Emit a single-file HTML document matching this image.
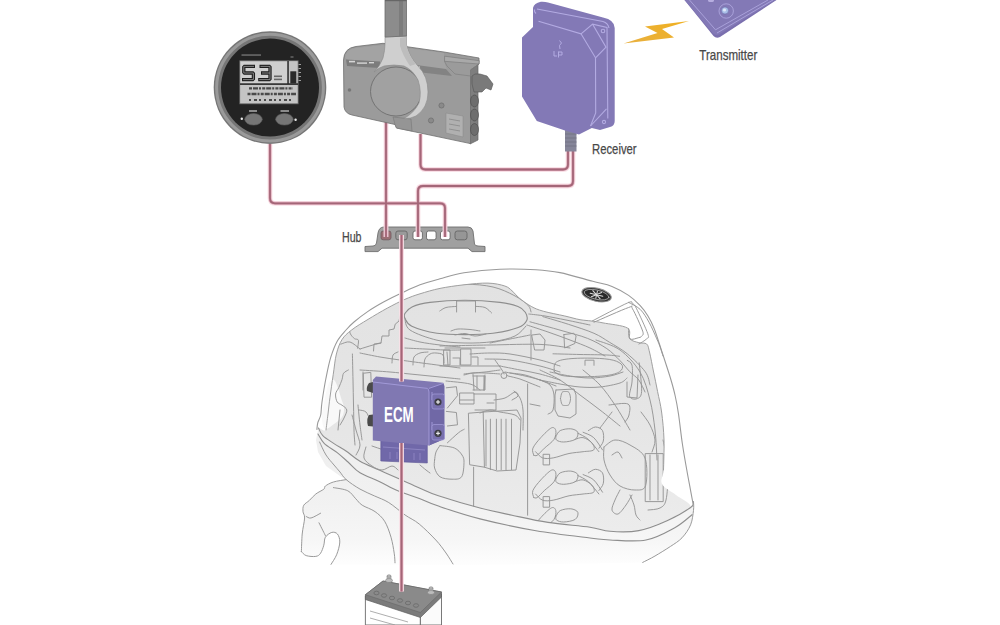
<!DOCTYPE html>
<html><head><meta charset="utf-8">
<style>
html,body{margin:0;padding:0;background:#fff;width:1000px;height:625px;overflow:hidden}
svg{display:block}
text{font-family:"Liberation Sans",sans-serif}
</style></head>
<body>
<svg width="1000" height="625" viewBox="0 0 1000 625">
<defs>
<linearGradient id="ring" x1="0" y1="0" x2="1" y2="1">
<stop offset="0" stop-color="#9a9a9a"/><stop offset="1" stop-color="#7a7a7a"/>
</linearGradient>
<linearGradient id="bolt" x1="0" y1="1" x2="1" y2="0">
<stop offset="0" stop-color="#e8b040"/><stop offset="1" stop-color="#f0b020"/>
</linearGradient>
<linearGradient id="intg" x1="0" y1="0" x2="0" y2="1">
<stop offset="0" stop-color="#e2e2e2"/><stop offset="0.6" stop-color="#e6e6e6"/><stop offset="1" stop-color="#ececec"/>
</linearGradient>
<linearGradient id="lowg" gradientUnits="userSpaceOnUse" x1="0" y1="430" x2="0" y2="566">
<stop offset="0" stop-color="#eeeeee"/><stop offset="0.5" stop-color="#f1f1f1"/><stop offset="0.8" stop-color="#f6f6f6"/><stop offset="1" stop-color="#fefefe"/>
</linearGradient>
</defs>

<!-- ENGINE -->
<g id="engine">
<defs><clipPath id="intclip"><path d="M326.0 430.0 C327.6 427.7 327.3 419.5 328.0 414.0 C328.7 408.5 329.1 403.7 330.0 397.2 C330.9 390.7 332.1 382.0 333.2 374.8 C334.3 367.6 334.9 359.9 336.4 354.0 C337.9 348.1 339.5 343.6 342.0 339.6 C344.5 335.6 347.3 333.4 351.6 330.0 C355.9 326.6 362.1 323.0 368.0 319.4 C373.9 315.8 381.1 311.5 387.2 308.2 C393.3 304.9 399.3 301.8 404.8 299.4 C410.3 297.0 414.1 295.6 420.0 293.8 C425.9 292.0 432.7 289.9 440.0 288.4 C447.3 286.9 456.0 285.7 464.0 284.8 C472.0 283.9 481.2 282.9 488.0 283.1 C494.8 283.3 500.8 284.7 504.8 286.0 C508.8 287.3 509.6 288.8 512.0 290.8 C514.4 292.8 516.0 295.4 519.2 298.0 C522.4 300.6 527.2 304.2 531.2 306.4 C535.2 308.6 537.6 309.6 543.2 311.2 C548.8 312.8 558.7 314.6 564.8 316.0 C570.9 317.4 575.5 318.9 580.0 319.7 C584.5 320.5 587.7 320.5 591.5 321.0 C595.3 321.5 597.0 321.7 603.0 322.9 C609.0 324.1 622.9 325.3 627.4 328.0 C631.9 330.7 628.1 336.4 630.0 338.9 C631.9 341.3 636.1 341.8 638.9 342.7 C641.7 343.6 644.8 342.4 646.6 344.0 C648.4 345.6 648.3 347.3 649.5 352.0 C650.7 356.7 652.2 365.4 653.6 372.0 C655.0 378.6 656.3 384.9 657.6 391.6 C658.9 398.3 660.5 403.9 661.6 412.0 C662.7 420.1 663.7 430.3 664.0 440.0 C664.3 449.7 663.8 462.7 663.5 470.0 C663.2 477.3 659.9 479.8 662.0 484.0 C664.1 488.2 671.2 491.1 676.0 495.0 C680.8 498.9 692.0 503.2 690.6 507.5 C689.2 511.8 676.2 516.6 667.6 520.5 C659.0 524.4 648.4 528.8 638.8 530.6 C629.2 532.4 618.1 531.9 610.0 531.3 C601.9 530.7 600.3 528.7 590.0 527.2 C579.7 525.7 561.0 524.4 548.0 522.4 C535.0 520.4 523.3 517.6 512.0 515.2 C500.7 512.8 492.3 511.2 480.0 508.0 C467.7 504.8 448.4 499.1 438.4 495.8 C428.4 492.5 426.7 491.1 420.0 488.2 C413.3 485.3 405.2 481.6 398.4 478.6 C391.6 475.6 385.6 472.9 379.2 470.0 C372.8 467.1 365.5 464.5 360.0 461.3 C354.5 458.1 350.3 453.9 346.0 451.0 C341.7 448.1 337.9 446.2 334.0 443.6 C330.1 441.0 325.4 438.2 322.8 435.6 C320.2 433.0 318.0 428.9 318.5 428.0 C319.0 427.1 324.4 432.3 326.0 430.0 Z"/></clipPath></defs>
<path d="M326.0 430.0 C327.6 427.7 327.3 419.5 328.0 414.0 C328.7 408.5 329.1 403.7 330.0 397.2 C330.9 390.7 332.1 382.0 333.2 374.8 C334.3 367.6 334.9 359.9 336.4 354.0 C337.9 348.1 339.5 343.6 342.0 339.6 C344.5 335.6 347.3 333.4 351.6 330.0 C355.9 326.6 362.1 323.0 368.0 319.4 C373.9 315.8 381.1 311.5 387.2 308.2 C393.3 304.9 399.3 301.8 404.8 299.4 C410.3 297.0 414.1 295.6 420.0 293.8 C425.9 292.0 432.7 289.9 440.0 288.4 C447.3 286.9 456.0 285.7 464.0 284.8 C472.0 283.9 481.2 282.9 488.0 283.1 C494.8 283.3 500.8 284.7 504.8 286.0 C508.8 287.3 509.6 288.8 512.0 290.8 C514.4 292.8 516.0 295.4 519.2 298.0 C522.4 300.6 527.2 304.2 531.2 306.4 C535.2 308.6 537.6 309.6 543.2 311.2 C548.8 312.8 558.7 314.6 564.8 316.0 C570.9 317.4 575.5 318.9 580.0 319.7 C584.5 320.5 587.7 320.5 591.5 321.0 C595.3 321.5 597.0 321.7 603.0 322.9 C609.0 324.1 622.9 325.3 627.4 328.0 C631.9 330.7 628.1 336.4 630.0 338.9 C631.9 341.3 636.1 341.8 638.9 342.7 C641.7 343.6 644.8 342.4 646.6 344.0 C648.4 345.6 648.3 347.3 649.5 352.0 C650.7 356.7 652.2 365.4 653.6 372.0 C655.0 378.6 656.3 384.9 657.6 391.6 C658.9 398.3 660.5 403.9 661.6 412.0 C662.7 420.1 663.7 430.3 664.0 440.0 C664.3 449.7 663.8 462.7 663.5 470.0 C663.2 477.3 659.9 479.8 662.0 484.0 C664.1 488.2 671.2 491.1 676.0 495.0 C680.8 498.9 692.0 503.2 690.6 507.5 C689.2 511.8 676.2 516.6 667.6 520.5 C659.0 524.4 648.4 528.8 638.8 530.6 C629.2 532.4 618.1 531.9 610.0 531.3 C601.9 530.7 600.3 528.7 590.0 527.2 C579.7 525.7 561.0 524.4 548.0 522.4 C535.0 520.4 523.3 517.6 512.0 515.2 C500.7 512.8 492.3 511.2 480.0 508.0 C467.7 504.8 448.4 499.1 438.4 495.8 C428.4 492.5 426.7 491.1 420.0 488.2 C413.3 485.3 405.2 481.6 398.4 478.6 C391.6 475.6 385.6 472.9 379.2 470.0 C372.8 467.1 365.5 464.5 360.0 461.3 C354.5 458.1 350.3 453.9 346.0 451.0 C341.7 448.1 337.9 446.2 334.0 443.6 C330.1 441.0 325.4 438.2 322.8 435.6 C320.2 433.0 318.0 428.9 318.5 428.0 C319.0 427.1 324.4 432.3 326.0 430.0 Z" fill="url(#intg)" stroke="none"/>
<path d="M318.5 428.0 L316.0 440.0 L318.0 452.0 L326.0 466.0 L340.0 476.0 L346.2 479.6 L333.4 482.0 L325.4 486.0 L323.8 489.2 L315.8 494.0 L309.4 500.4 L303.8 505.2 L303.0 511.6 L304.6 518.0 L302.2 534.0 L301.4 551.6 L306.2 555.6 L315.8 556.4 L320.6 553.2 L323.8 545.2 L325.4 537.2 L331.8 532.4 L337.4 534.0 L339.8 542.0 L336.6 554.8 L331.0 564.4 L395.0 565.0 L470.0 565.0 L560.0 564.0 L642.7 562.4 L655.0 556.0 L670.5 546.4 L682.0 537.8 L690.6 524.8 L693.5 510.4 L693.5 501.8 L693.5 501.8 L690.6 507.5 L667.6 520.5 L638.8 530.6 L610.0 531.3 L590.0 527.2 L548.0 522.4 L512.0 515.2 L480.0 508.0 L438.4 495.8 L420.0 488.2 L398.4 478.6 L379.2 470.0 L360.0 461.3 L346.0 451.0 L334.0 443.6 L322.8 435.6 L318.5 428.0 Z" fill="url(#lowg)" stroke="none"/>
<path d="M329.0 383.0 C330.5 380.0 332.5 379.2 334.0 380.0 C335.5 380.8 336.8 385.0 338.0 388.0 C339.2 391.0 340.0 394.7 341.0 398.0 C342.0 401.3 343.8 404.8 344.0 408.0 C344.2 411.2 343.7 414.3 342.0 417.0 C340.3 419.7 336.8 422.0 334.0 424.0 C331.2 426.0 327.0 430.0 325.0 429.0 C323.0 428.0 322.0 423.2 322.0 418.0 C322.0 412.8 323.8 403.8 325.0 398.0 C326.2 392.2 327.5 386.0 329.0 383.0 Z" fill="#f9f9f9" stroke="none"/>
<g fill="none" stroke="#959595" stroke-width="0.95" stroke-linecap="round" stroke-linejoin="round">
<g clip-path="url(#intclip)">
<path d="M404.8 313.6 C406.0 312.5 407.8 308.9 412.0 307.0 C416.2 305.1 421.2 303.5 430.0 302.4 C438.8 301.3 453.3 300.3 465.0 300.3 C476.7 300.3 491.2 301.4 500.0 302.4 C508.8 303.4 513.8 304.9 518.0 306.5 C522.2 308.1 523.8 309.8 525.3 312.2 C526.8 314.6 527.9 318.0 526.7 320.6 C525.5 323.2 523.8 325.5 518.2 327.6 C512.6 329.7 501.9 332.0 493.0 333.2 C484.1 334.4 474.3 334.6 465.0 334.6 C455.7 334.6 445.9 334.6 437.0 333.2 C428.1 331.8 417.2 328.7 411.8 326.2 C406.4 323.7 406.0 320.1 404.8 318.0 C403.6 315.9 404.8 314.3 404.8 313.6" stroke-width="1.1" stroke="#8e8e8e"/>
<path d="M404.8 298.2 C407.3 297.1 414.6 293.4 420.0 291.5 C425.4 289.6 429.5 288.2 437.0 287.0 C444.5 285.8 455.7 284.2 465.0 284.2 C474.3 284.2 484.8 285.1 493.0 287.0 C501.2 288.9 508.2 292.4 514.0 295.4 C519.8 298.4 525.2 302.4 528.0 305.2 C530.8 308.0 530.5 310.9 531.0 312.0"/>
<path d="M404.8 318.0 C405.7 320.0 404.6 326.3 410.0 330.0 C415.4 333.7 427.8 338.0 437.0 340.2 C446.2 342.4 455.7 342.8 465.0 343.0 C474.3 343.2 484.7 342.8 493.0 341.6 C501.3 340.4 509.5 338.6 515.0 336.0 C520.5 333.4 524.2 327.7 526.0 326.0"/>
<path d="M456.6 312.0 L456.6 301.0 L475.5 301.0 L475.5 312.0"/>
<path d="M439.8 311.0 C440.8 310.4 443.2 308.3 446.0 307.5 C448.8 306.7 454.8 306.6 456.6 306.4"/>
<path d="M475.5 306.4 C477.1 306.6 482.3 306.4 485.0 307.5 C487.7 308.6 490.5 312.1 491.6 313.0"/>
<path d="M451.0 331.0 C452.2 330.7 454.8 329.2 458.0 329.0 C461.2 328.8 466.3 329.2 470.0 329.5 C473.7 329.8 478.3 330.8 480.0 331.0"/>
<path d="M455.0 335.0 C456.7 334.8 461.7 333.3 465.0 333.5 C468.3 333.7 471.5 335.9 475.0 336.0 C478.5 336.1 484.2 334.3 486.0 334.0"/>
<path d="M462.0 338.0 L470.0 339.0"/>
<path d="M373.5 351.0 L374.0 344.0 L381.0 343.0 L382.0 336.0 L389.0 336.0 L389.0 330.0 L394.0 329.0 L395.2 324.2 L399.0 321.0 L400.0 316.0"/>
<path d="M340.8 344.2 C342.3 343.8 346.8 341.2 350.0 342.0 C353.2 342.8 358.3 347.8 360.0 349.0"/>
<path d="M348.8 327.4 C349.1 328.5 349.5 331.9 350.4 333.8 C351.3 335.7 353.1 337.5 354.4 338.6 C355.7 339.7 357.9 338.6 358.4 340.2 C358.9 341.8 357.7 346.9 357.6 348.2"/>
<path d="M360.0 349.0 C362.2 348.3 369.5 346.0 373.0 345.0 C376.5 344.0 379.7 343.3 381.0 343.0"/>
<path d="M360.0 353.0 C363.3 353.7 373.3 355.8 380.0 357.0 C386.7 358.2 393.0 359.0 400.0 360.0 C407.0 361.0 412.0 361.7 422.0 363.0 C432.0 364.3 453.7 367.2 460.0 368.0"/>
<path d="M405.0 338.0 C407.5 338.7 414.2 340.8 420.0 342.0 C425.8 343.2 433.3 344.2 440.0 345.0 C446.7 345.8 456.7 346.7 460.0 347.0"/>
<path d="M405.0 348.0 C408.3 348.2 418.3 348.7 425.0 349.0 C431.7 349.3 439.2 349.8 445.0 350.0 C450.8 350.2 457.5 350.0 460.0 350.0"/>
<path d="M360.0 370.0 C365.0 370.3 381.7 371.3 390.0 372.0 C398.3 372.7 401.7 373.2 410.0 374.0 C418.3 374.8 431.7 376.2 440.0 377.0 C448.3 377.8 456.7 378.7 460.0 379.0"/>
<path d="M363.0 372.0 L363.0 390.0"/>
<path d="M392.0 363.0 C392.2 361.7 392.0 356.8 393.0 355.0 C394.0 353.2 397.2 352.5 398.0 352.0"/>
<path d="M413.0 365.0 C413.2 363.7 412.8 359.0 414.0 357.0 C415.2 355.0 417.7 353.8 420.0 353.0 C422.3 352.2 426.7 352.2 428.0 352.0"/>
<path d="M424.0 367.0 C424.2 365.7 424.0 361.2 425.0 359.0 C426.0 356.8 428.2 355.0 430.0 354.0 C431.8 353.0 433.8 352.8 436.0 353.0 C438.2 353.2 441.7 353.3 443.0 355.0 C444.3 356.7 443.8 361.7 444.0 363.0"/>
<path d="M447.0 352.0 L448.0 365.0"/>
<path d="M445.0 348.0 L485.0 348.0"/>
<path d="M444.0 350.0 L450.0 350.0 L450.0 365.0 L444.0 365.0 Z"/>
<path d="M461.0 349.0 L471.0 349.0 L471.0 365.0 L461.0 365.0 Z"/>
<path d="M453.0 358.0 L460.0 358.0 L460.0 365.0"/>
<path d="M472.0 357.0 L478.0 357.0 L478.0 365.0"/>
<path d="M440.0 366.0 L500.0 366.0"/>
<path d="M470.0 354.0 C473.3 353.8 483.3 353.0 490.0 353.0 C496.7 353.0 501.7 352.8 510.0 354.0 C518.3 355.2 531.7 358.0 540.0 360.0 C548.3 362.0 556.7 365.0 560.0 366.0"/>
<path d="M485.0 359.0 C489.2 359.2 500.8 358.8 510.0 360.0 C519.2 361.2 531.7 364.0 540.0 366.0 C548.3 368.0 556.7 371.0 560.0 372.0"/>
<path d="M500.0 366.0 C503.3 366.7 513.3 368.7 520.0 370.0 C526.7 371.3 533.3 372.3 540.0 374.0 C546.7 375.7 556.7 379.0 560.0 380.0"/>
<path d="M505.0 372.0 C508.3 372.7 519.2 374.7 525.0 376.0 C530.8 377.3 534.8 378.3 540.0 380.0 C545.2 381.7 553.3 385.0 556.0 386.0"/>
<path d="M490.0 343.0 C493.3 342.3 503.3 340.3 510.0 339.0 C516.7 337.7 526.7 335.7 530.0 335.0"/>
<path d="M495.0 360.0 C496.2 361.7 500.5 367.7 502.0 370.0 C503.5 372.3 503.7 373.3 504.0 374.0"/>
<path d="M464.0 374.0 C465.5 373.8 469.5 373.3 473.0 373.0 C476.5 372.7 480.5 372.5 485.0 372.0 C489.5 371.5 497.5 370.3 500.0 370.0"/>
<path d="M473.0 374.0 L474.0 390.0"/>
<path d="M485.0 375.0 L484.0 390.0"/>
<path d="M531.0 330.0 L531.0 360.0"/>
<path d="M352.4 354.0 C352.5 358.3 352.8 371.5 353.0 380.0 C353.2 388.5 353.3 396.7 353.5 405.0 C353.7 413.3 353.8 423.3 354.0 430.0 C354.2 436.7 354.8 442.5 355.0 445.0"/>
<path d="M348.4 370.0 C347.6 370.5 344.7 371.6 343.6 373.2 C342.5 374.8 342.8 377.2 342.0 379.6 C341.2 382.0 339.9 385.2 338.8 387.6 C337.7 390.0 335.9 391.6 335.6 394.0 C335.3 396.4 336.1 400.1 337.2 402.0 C338.3 403.9 340.4 403.9 342.0 405.2 C343.6 406.5 346.5 407.9 346.8 410.0 C347.1 412.1 345.1 415.5 344.0 418.0 C342.9 420.5 340.7 423.8 340.0 425.0"/>
<path d="M363.6 373.2 L370.8 372.4 L371.6 397.2 L364.4 397.2 Z"/>
<path d="M338.0 430.0 L340.0 410.0"/>
<path d="M358.0 405.0 C358.3 408.3 359.3 419.2 360.0 425.0 C360.7 430.8 361.7 437.5 362.0 440.0"/>
<path d="M359.0 410.0 C360.2 410.3 364.2 410.3 366.0 412.0 C367.8 413.7 369.3 418.7 370.0 420.0"/>
<path d="M528.8 314.0 C531.5 314.3 538.8 315.0 545.0 316.0 C551.2 317.0 558.5 318.5 566.0 320.0 C573.5 321.5 586.0 324.2 590.0 325.0"/>
<path d="M527.0 325.0 C530.5 326.2 540.8 329.5 548.0 332.0 C555.2 334.5 563.0 337.3 570.0 340.0 C577.0 342.7 584.2 345.3 590.0 348.0 C595.8 350.7 602.5 354.7 605.0 356.0"/>
<path d="M440.0 346.0 C448.3 345.8 473.3 345.3 490.0 345.0 C506.7 344.7 526.7 343.9 540.0 344.4 C553.3 344.9 565.0 347.4 570.0 348.0"/>
<path d="M563.9 334.6 L573.5 333.3 L576.1 335.8 L574.8 343.5 L564.6 348.0 L563.9 334.6"/>
<path d="M532.0 335.0 L540.0 334.0 L545.0 340.0 L544.0 350.0 L535.0 350.0 Z"/>
<path d="M553.0 353.8 C557.5 353.9 571.0 354.3 580.0 354.5 C589.0 354.7 600.2 354.7 606.8 355.0 C613.4 355.3 617.5 356.1 619.6 356.3"/>
<path d="M554.3 371.7 C554.5 370.2 553.2 364.8 555.6 362.7 C558.0 360.6 562.0 359.6 568.4 358.9 C574.8 358.1 586.5 358.0 594.0 358.2 C601.5 358.4 608.5 359.0 613.2 360.2 C617.9 361.4 621.1 363.4 622.2 365.3 C623.3 367.2 622.2 370.0 619.6 371.7 C617.0 373.4 613.2 374.6 606.8 375.5 C600.4 376.4 588.7 376.8 581.2 376.8 C573.7 376.8 566.5 376.4 562.0 375.5 C557.5 374.6 555.6 372.3 554.3 371.7"/>
<path d="M585.0 365.3 L585.0 360.2 L594.0 360.2 L594.0 365.3"/>
<path d="M530.0 321.8 C535.3 323.3 552.4 327.9 562.0 330.7 C571.6 333.5 580.1 335.4 587.6 338.4 C595.1 341.4 601.5 345.0 606.8 348.6 C612.1 352.2 615.8 356.4 619.6 360.2 C623.4 364.0 626.6 368.4 629.8 371.7 C633.0 375.0 636.3 376.6 638.8 380.0 C641.3 383.4 644.0 390.0 645.0 392.0"/>
<path d="M542.8 316.6 C547.1 317.9 559.9 321.5 568.4 324.3 C576.9 327.1 587.2 330.3 594.0 333.3 C600.8 336.3 603.9 338.8 609.4 342.2 C614.9 345.6 621.3 348.9 627.3 353.8 C633.3 358.7 641.4 366.5 645.2 371.7 C649.0 376.9 649.2 382.8 650.0 385.0"/>
<path d="M596.0 340.0 C600.0 341.7 612.7 344.7 620.0 350.0 C627.3 355.3 635.0 363.7 640.0 372.0 C645.0 380.3 647.5 390.3 650.0 400.0 C652.5 409.7 653.8 420.0 655.0 430.0 C656.2 440.0 656.7 455.0 657.0 460.0"/>
<path d="M627.2 360.4 C628.0 361.2 631.2 361.6 632.0 365.2 C632.8 368.8 632.4 376.8 632.0 382.0 C631.6 387.2 628.8 393.6 629.6 396.4 C630.4 399.2 634.8 399.6 636.8 398.8 C638.8 398.0 641.2 397.6 641.6 391.6 C642.0 385.6 639.6 367.6 639.2 362.8"/>
<path d="M645.6 453.6 L663.2 453.6 L663.2 501.6 L645.6 501.6 Z"/>
<path d="M650.0 455.0 L650.0 500.0"/>
<path d="M658.0 455.0 L658.0 500.0"/>
<path d="M641.0 412.0 C642.5 414.2 647.7 420.3 650.0 425.0 C652.3 429.7 654.7 435.5 655.0 440.0 C655.3 444.5 652.5 450.0 652.0 452.0"/>
<path d="M663.0 440.0 C663.5 442.5 665.2 449.2 666.0 455.0 C666.8 460.8 668.0 467.5 668.0 475.0 C668.0 482.5 667.3 494.5 666.0 500.0 C664.7 505.5 663.0 506.3 660.0 508.0 C657.0 509.7 650.0 509.7 648.0 510.0"/>
<path d="M604.0 447.0 C605.8 445.8 610.7 440.3 615.0 440.0 C619.3 439.7 625.0 442.0 630.0 445.0 C635.0 448.0 642.4 451.2 645.0 458.0 C647.6 464.8 647.3 480.3 645.6 485.6 C643.9 490.9 639.3 489.9 635.0 490.0 C630.7 490.1 624.2 488.5 620.0 486.0 C615.8 483.5 612.7 479.3 610.0 475.0 C607.3 470.7 605.0 464.7 604.0 460.0 C603.0 455.3 604.0 449.2 604.0 447.0"/>
<path d="M612.0 455.0 C613.0 454.5 616.3 451.5 618.0 452.0 C619.7 452.5 621.3 457.0 622.0 458.0"/>
<path d="M620.0 490.0 C619.2 491.7 616.3 496.7 615.0 500.0 C613.7 503.3 611.5 507.7 612.0 510.0 C612.5 512.3 615.7 514.8 618.0 514.0 C620.3 513.2 623.7 508.2 626.0 505.0 C628.3 501.8 631.0 496.7 632.0 495.0"/>
<path d="M630.0 495.0 C630.7 496.7 633.0 501.7 634.0 505.0 C635.0 508.3 635.0 512.5 636.0 515.0 C637.0 517.5 639.3 519.2 640.0 520.0"/>
<path d="M533.8 455.2 C533.6 454.0 531.7 451.1 532.9 448.2 C534.1 445.3 537.7 441.0 540.8 437.6 C543.9 434.2 548.9 429.1 551.4 427.9 C553.9 426.7 555.4 428.7 555.8 430.6 C556.2 432.5 555.9 436.5 554.0 439.4 C552.1 442.3 547.2 445.6 544.4 448.2 C541.6 450.8 539.1 454.0 537.3 455.2 C535.5 456.4 534.4 455.2 533.8 455.2"/>
<path d="M555.8 436.7 C556.5 435.7 557.7 431.9 560.2 430.6 C562.7 429.3 567.9 428.5 570.8 428.8 C573.7 429.1 577.1 430.5 577.8 432.3 C578.5 434.1 577.6 437.8 575.2 439.4 C572.9 441.0 566.8 441.9 563.7 442.0 C560.6 442.1 558.0 441.1 556.7 440.2 C555.4 439.3 555.9 437.3 555.8 436.7"/>
<path d="M535.6 451.7 C536.8 452.7 539.7 456.9 542.6 457.9 C545.5 458.9 548.8 458.6 553.2 457.9 C557.6 457.2 564.0 454.5 569.0 453.5 C574.0 452.5 579.0 452.3 583.1 451.7 C587.2 451.1 592.2 451.4 593.7 449.9 C595.2 448.4 593.7 444.9 591.9 442.9 C590.1 440.8 585.9 438.2 583.1 437.6 C580.3 437.0 576.5 439.1 575.2 439.4"/>
<path d="M543.5 454.3 L549.6 454.3 L549.6 464.9 L543.5 464.9 Z"/>
<path d="M577.8 433.2 C579.6 434.2 584.9 436.3 588.4 439.4 C591.9 442.5 597.1 449.6 598.9 451.7"/>
<path d="M583.1 432.3 C584.9 433.2 590.5 434.7 593.7 437.6 C596.9 440.5 601.0 447.8 602.5 449.9"/>
<path d="M588.4 430.6 C589.6 430.0 593.0 427.0 595.4 427.0 C597.8 427.0 601.2 428.2 602.5 430.6 C603.8 433.0 603.9 438.2 603.3 441.1 C602.7 444.0 599.6 447.0 598.9 448.2"/>
<path d="M533.8 497.5 C533.6 496.3 531.7 493.4 532.9 490.5 C534.1 487.6 537.7 483.3 540.8 479.9 C543.9 476.5 548.9 471.4 551.4 470.2 C553.9 469.0 555.4 471.0 555.8 472.9 C556.2 474.8 555.9 478.8 554.0 481.7 C552.1 484.6 547.2 487.9 544.4 490.5 C541.6 493.1 539.1 496.3 537.3 497.5 C535.5 498.7 534.4 497.5 533.8 497.5"/>
<path d="M555.8 479.0 C556.5 478.0 557.7 474.2 560.2 472.9 C562.7 471.6 567.9 470.8 570.8 471.1 C573.7 471.4 577.1 472.8 577.8 474.6 C578.5 476.4 577.6 480.1 575.2 481.7 C572.9 483.3 566.8 484.2 563.7 484.3 C560.6 484.4 558.0 483.4 556.7 482.5 C555.4 481.6 555.9 479.6 555.8 479.0"/>
<path d="M535.6 494.0 C536.8 495.0 539.7 499.2 542.6 500.2 C545.5 501.2 548.8 500.9 553.2 500.2 C557.6 499.5 564.0 496.8 569.0 495.8 C574.0 494.8 579.0 494.6 583.1 494.0 C587.2 493.4 592.2 493.7 593.7 492.2 C595.2 490.7 593.7 487.2 591.9 485.2 C590.1 483.1 585.9 480.5 583.1 479.9 C580.3 479.3 576.5 481.4 575.2 481.7"/>
<path d="M543.5 496.6 L549.6 496.6 L549.6 507.2 L543.5 507.2 Z"/>
<path d="M577.8 475.5 C579.6 476.5 584.9 478.6 588.4 481.7 C591.9 484.8 597.1 491.9 598.9 494.0"/>
<path d="M583.1 474.6 C584.9 475.5 590.5 477.0 593.7 479.9 C596.9 482.8 601.0 490.1 602.5 492.2"/>
<path d="M588.4 472.9 C589.6 472.3 593.0 469.3 595.4 469.3 C597.8 469.3 601.2 470.6 602.5 472.9 C603.8 475.3 603.9 480.5 603.3 483.4 C602.7 486.3 599.6 489.3 598.9 490.5"/>
<path d="M533.8 535.2 C533.6 534.0 531.7 531.1 532.9 528.2 C534.1 525.3 537.7 521.0 540.8 517.6 C543.9 514.2 548.9 509.1 551.4 507.9 C553.9 506.7 555.4 508.7 555.8 510.6 C556.2 512.5 555.9 516.5 554.0 519.4 C552.1 522.3 547.2 525.6 544.4 528.2 C541.6 530.8 539.1 534.0 537.3 535.2 C535.5 536.4 534.4 535.2 533.8 535.2"/>
<path d="M555.8 516.7 C556.5 515.7 557.7 511.9 560.2 510.6 C562.7 509.3 567.9 508.5 570.8 508.8 C573.7 509.1 577.1 510.5 577.8 512.3 C578.5 514.1 577.6 517.8 575.2 519.4 C572.9 521.0 566.8 521.9 563.7 522.0 C560.6 522.1 558.0 521.1 556.7 520.2 C555.4 519.3 555.9 517.3 555.8 516.7"/>
<path d="M600.0 428.0 C601.0 426.7 604.0 422.7 606.0 420.0 C608.0 417.3 611.0 413.3 612.0 412.0"/>
<path d="M527.6 384.0 L527.6 515.2"/>
<path d="M473.6 467.2 L473.6 506.8"/>
<path d="M468.8 413.2 L483.2 412.0 L484.4 467.2 L470.0 464.8 Z"/>
<path d="M483.2 412.0 L517.0 410.0 L521.0 418.0 L520.0 443.0 L516.0 470.0 L497.0 471.0 L484.4 467.2"/>
<path d="M490.4 419.2 L490.4 469.6"/>
<path d="M496.4 419.2 L496.4 469.6"/>
<path d="M501.2 419.2 L501.2 469.6"/>
<path d="M506.0 419.2 L506.0 469.6"/>
<path d="M511.5 419.2 L511.5 469.6"/>
<path d="M486.0 420.0 L486.0 466.0"/>
<path d="M440.0 445.6 C442.4 446.0 450.7 446.4 454.4 448.0 C458.1 449.6 460.4 452.6 462.0 455.0 C463.6 457.4 464.1 458.8 464.0 462.4 C463.9 466.0 463.6 474.0 461.6 476.8 C459.6 479.6 455.6 479.2 452.0 479.2 C448.4 479.2 442.9 478.7 440.0 476.8 C437.1 474.9 435.5 470.8 434.6 468.0 C433.7 465.2 434.6 461.3 434.6 460.0"/>
<path d="M434.6 460.0 C434.8 458.7 435.1 454.4 436.0 452.0 C436.9 449.6 439.3 446.7 440.0 445.6"/>
<path d="M464.0 375.0 C465.5 374.7 469.5 373.3 473.0 373.0 C476.5 372.7 480.5 372.8 485.0 373.0 C489.5 373.2 497.5 373.8 500.0 374.0"/>
<circle cx="504" cy="375.5" r="3"/>
<path d="M508.0 376.0 C510.0 376.5 516.3 377.8 520.0 379.0 C523.7 380.2 526.7 381.7 530.0 383.0 C533.3 384.3 538.3 386.3 540.0 387.0"/>
<path d="M510.0 373.0 C512.5 373.3 520.0 373.8 525.0 375.0 C530.0 376.2 537.5 379.2 540.0 380.0"/>
<path d="M473.0 376.0 L485.0 376.0 L485.0 390.0 L473.0 390.0"/>
<path d="M477.0 376.0 L477.0 389.0"/>
<path d="M484.0 376.0 L484.0 390.0"/>
<path d="M446.0 381.0 C450.0 381.5 464.3 382.5 470.0 384.0 C475.7 385.5 478.3 389.0 480.0 390.0"/>
<path d="M460.0 393.0 L474.0 393.0 L474.0 404.0 L460.0 404.0 Z"/>
<path d="M460.0 400.0 L474.0 400.0"/>
<path d="M474.0 394.0 L496.0 394.0 L496.0 410.0 L475.0 410.0"/>
<path d="M487.0 403.0 L494.0 403.0"/>
<path d="M494.0 400.0 C495.8 399.7 501.5 399.3 505.0 398.0 C508.5 396.7 512.8 392.3 515.0 392.0 C517.2 391.7 518.5 394.7 518.0 396.0 C517.5 397.3 513.0 399.3 512.0 400.0"/>
<path d="M514.0 391.0 C515.0 392.2 518.5 394.8 520.0 398.0 C521.5 401.2 522.5 404.7 523.0 410.0 C523.5 415.3 523.0 426.7 523.0 430.0"/>
<path d="M530.0 404.0 L540.0 406.0"/>
<path d="M446.3 387.8 L456.4 386.7 L457.5 395.7 L447.4 408.0"/>
<path d="M446.3 411.4 L456.4 412.5 L457.5 424.8 L447.4 426.0"/>
<path d="M447.4 442.8 C449.3 441.1 455.8 434.9 458.6 432.7 C461.4 430.4 463.3 429.9 464.2 429.3"/>
<path d="M480.0 413.0 C481.7 412.5 486.7 410.2 490.0 410.0 C493.3 409.8 495.8 411.2 500.0 412.0 C504.2 412.8 511.7 413.7 515.0 415.0 C518.3 416.3 519.2 419.2 520.0 420.0"/>
<path d="M560.5 398.5 C560.8 397.5 561.2 393.7 562.0 392.5 C562.8 391.3 564.3 391.5 565.5 391.5 C566.7 391.5 568.2 391.3 569.0 392.5 C569.8 393.7 570.5 396.5 570.5 398.5 C570.5 400.5 569.8 403.3 569.0 404.5 C568.2 405.7 566.7 405.5 565.5 405.5 C564.3 405.5 562.8 405.7 562.0 404.5 C561.2 403.3 560.8 399.5 560.5 398.5"/>
<path d="M556.0 390.0 L574.0 389.0 L576.0 395.0 L576.0 414.0 L570.0 418.0 L558.0 416.0 L555.0 410.0 L555.0 395.0 L556.0 390.0"/>
<path d="M550.0 372.0 C553.3 372.7 563.3 375.0 570.0 376.0 C576.7 377.0 583.3 378.0 590.0 378.0 C596.7 378.0 604.5 377.0 610.0 376.0 C615.5 375.0 620.8 372.7 623.0 372.0"/>
<path d="M540.0 380.0 C543.3 380.7 553.3 382.8 560.0 384.0 C566.7 385.2 573.3 386.5 580.0 387.0 C586.7 387.5 593.3 387.7 600.0 387.0 C606.7 386.3 615.5 384.5 620.0 383.0 C624.5 381.5 625.8 378.8 627.0 378.0"/>
<path d="M583.0 370.0 C585.8 372.5 594.7 379.2 600.0 385.0 C605.3 390.8 610.0 397.5 615.0 405.0 C620.0 412.5 627.5 425.8 630.0 430.0"/>
<path d="M540.0 370.0 C543.3 371.7 553.3 375.8 560.0 380.0 C566.7 384.2 573.3 390.0 580.0 395.0 C586.7 400.0 593.3 404.8 600.0 410.0 C606.7 415.2 616.7 423.3 620.0 426.0"/>
<path d="M627.0 382.0 L627.0 397.0 L637.0 398.0 L638.0 375.0"/>
<path d="M609.0 405.0 C612.2 404.8 624.7 402.3 628.0 404.0 C631.3 405.7 629.5 412.0 629.0 415.0 C628.5 418.0 625.7 420.8 625.0 422.0"/>
<path d="M540.0 380.0 C541.7 380.8 547.7 382.5 550.0 385.0 C552.3 387.5 553.5 390.8 554.0 395.0 C554.5 399.2 554.0 406.8 553.0 410.0 C552.0 413.2 548.8 413.3 548.0 414.0"/>
<path d="M372.0 446.0 C374.0 446.7 380.7 449.0 384.0 450.0 C387.3 451.0 389.7 452.3 392.0 452.0 C394.3 451.7 397.0 448.7 398.0 448.0"/>
<path d="M366.0 447.0 C365.7 448.8 363.0 454.8 364.0 458.0 C365.0 461.2 369.0 464.0 372.0 466.0 C375.0 468.0 378.7 470.0 382.0 470.0 C385.3 470.0 389.3 466.0 392.0 466.0 C394.7 466.0 397.0 469.3 398.0 470.0"/>
<path d="M420.0 465.0 C421.0 465.8 424.3 468.7 426.0 470.0 C427.7 471.3 429.3 472.5 430.0 473.0"/>
<path d="M352.0 415.0 C352.7 417.5 354.7 425.0 356.0 430.0 C357.3 435.0 360.0 440.8 360.0 445.0 C360.0 449.2 356.7 453.3 356.0 455.0"/>
</g>
<path d="M316.9 429.4 C317.0 428.3 317.2 425.1 317.8 422.7 C318.4 420.3 320.0 418.4 320.7 415.0 C321.4 411.6 321.1 408.2 322.0 402.0 C322.9 395.8 324.5 385.5 326.0 378.0 C327.5 370.5 328.9 363.3 330.8 357.2 C332.7 351.1 334.7 345.7 337.2 341.2 C339.7 336.7 343.2 333.2 346.0 330.0 C348.8 326.8 350.3 325.1 354.0 322.0 C357.7 318.9 363.0 314.8 368.0 311.4 C373.0 308.0 378.7 304.7 384.0 301.8 C389.3 298.9 394.0 296.6 400.0 293.8 C406.0 291.0 413.3 287.3 420.0 284.8 C426.7 282.3 432.7 280.8 440.0 278.8 C447.3 276.8 454.0 274.4 464.0 272.8 C474.0 271.2 488.0 269.7 500.0 269.2 C512.0 268.7 526.0 269.1 536.0 269.7 C546.0 270.3 550.5 270.7 560.0 272.6 C569.5 274.5 584.1 279.0 592.8 281.3 C601.5 283.6 606.0 284.0 612.0 286.4 C618.0 288.8 623.9 292.2 628.6 295.4 C633.3 298.6 637.0 302.2 640.2 305.6 C643.4 309.0 645.5 312.0 647.8 315.8 C650.1 319.6 652.3 323.9 654.2 328.6 C656.1 333.3 657.8 339.1 659.4 344.0 C661.0 348.9 662.2 352.3 664.0 358.0 C665.8 363.7 668.5 371.7 670.4 378.0 C672.3 384.3 673.9 390.0 675.2 396.0 C676.6 402.0 677.3 406.0 678.5 414.0 C679.7 422.0 681.0 434.7 682.4 444.0 C683.8 453.3 685.4 462.3 686.8 470.0 C688.1 477.7 689.5 484.4 690.5 490.0 C691.5 495.6 692.6 501.2 693.0 503.5" stroke-width="1.1" stroke="#9a9a9a"/>
<path d="M326.0 430.0 C326.3 427.3 327.3 419.5 328.0 414.0 C328.7 408.5 329.1 403.7 330.0 397.2 C330.9 390.7 332.1 382.0 333.2 374.8 C334.3 367.6 334.9 359.9 336.4 354.0 C337.9 348.1 339.5 343.6 342.0 339.6 C344.5 335.6 347.3 333.4 351.6 330.0 C355.9 326.6 362.1 323.0 368.0 319.4 C373.9 315.8 381.1 311.5 387.2 308.2 C393.3 304.9 399.3 301.8 404.8 299.4 C410.3 297.0 414.1 295.6 420.0 293.8 C425.9 292.0 432.7 289.9 440.0 288.4 C447.3 286.9 456.0 285.7 464.0 284.8 C472.0 283.9 481.2 282.9 488.0 283.1 C494.8 283.3 500.8 284.7 504.8 286.0 C508.8 287.3 509.6 288.8 512.0 290.8 C514.4 292.8 516.0 295.4 519.2 298.0 C522.4 300.6 527.2 304.2 531.2 306.4 C535.2 308.6 537.6 309.6 543.2 311.2 C548.8 312.8 558.7 314.6 564.8 316.0 C570.9 317.4 575.5 318.9 580.0 319.7 C584.5 320.5 587.7 320.5 591.5 321.0 C595.3 321.5 597.0 321.7 603.0 322.9 C609.0 324.1 622.9 325.3 627.4 328.0 C631.9 330.7 628.1 336.4 630.0 338.9 C631.9 341.3 636.1 341.8 638.9 342.7 C641.7 343.6 644.8 342.4 646.6 344.0 C648.4 345.6 648.3 347.3 649.5 352.0 C650.7 356.7 652.2 365.4 653.6 372.0 C655.0 378.6 656.3 384.9 657.6 391.6 C658.9 398.3 660.5 403.9 661.6 412.0 C662.7 420.1 663.7 430.3 664.0 440.0 C664.3 449.7 663.6 465.0 663.5 470.0" stroke-width="1.0" stroke="#a0a0a0"/>
<path d="M318.5 428.0 C319.2 429.3 320.2 433.0 322.8 435.6 C325.4 438.2 330.1 441.0 334.0 443.6 C337.9 446.2 341.7 448.1 346.0 451.0 C350.3 453.9 354.5 458.1 360.0 461.3 C365.5 464.5 372.8 467.1 379.2 470.0 C385.6 472.9 391.6 475.6 398.4 478.6 C405.2 481.6 413.3 485.3 420.0 488.2 C426.7 491.1 428.4 492.5 438.4 495.8 C448.4 499.1 467.7 504.8 480.0 508.0 C492.3 511.2 500.7 512.8 512.0 515.2 C523.3 517.6 535.0 520.4 548.0 522.4 C561.0 524.4 579.7 525.7 590.0 527.2 C600.3 528.7 601.9 530.7 610.0 531.3 C618.1 531.9 629.2 532.4 638.8 530.6 C648.4 528.8 659.0 524.4 667.6 520.5 C676.2 516.6 686.3 510.6 690.6 507.5 C694.9 504.4 693.0 502.8 693.5 501.8" stroke-width="1.1" stroke="#8e8e8e"/>
<path d="M318.0 434.0 C319.1 435.6 321.2 440.5 324.4 443.6 C327.6 446.7 333.3 449.5 337.2 452.6 C341.1 455.7 344.2 458.6 348.0 462.0 C351.8 465.4 354.8 469.6 360.0 472.8 C365.2 476.1 372.8 478.4 379.2 481.5 C385.6 484.6 391.6 488.2 398.4 491.1 C405.2 494.0 413.3 496.2 420.0 498.7 C426.7 501.2 428.4 502.7 438.4 506.1 C448.4 509.5 463.7 514.8 480.0 518.9 C496.3 523.0 517.7 527.6 536.0 530.8 C554.3 534.0 577.7 536.5 590.0 538.0 C602.3 539.5 600.7 539.7 610.0 540.0 C619.3 540.3 635.2 542.0 646.0 540.0 C656.8 538.0 667.1 531.9 674.8 527.7 C682.5 523.5 689.1 516.9 692.0 514.7" stroke-width="1.1" stroke="#8e8e8e"/>
<path d="M693.5 501.8 C693.5 503.2 694.0 506.6 693.5 510.4 C693.0 514.2 692.5 520.2 690.6 524.8 C688.7 529.4 685.4 534.2 682.0 537.8 C678.6 541.4 675.0 543.4 670.5 546.4 C666.0 549.4 659.6 553.3 655.0 556.0 C650.4 558.7 644.8 561.3 642.7 562.4" stroke-width="1.0" stroke="#9a9a9a"/>
<path d="M319.6 442.0 C320.7 444.2 323.6 451.2 326.0 455.0 C328.4 458.8 331.7 462.2 334.0 465.0 C336.3 467.8 338.0 469.6 340.0 472.0 C342.0 474.4 342.9 476.8 346.2 479.6 C349.5 482.5 355.3 486.4 360.0 489.1 C364.7 491.8 369.6 493.6 374.4 495.9 C379.2 498.1 383.7 499.4 388.8 502.6 C393.9 505.8 400.0 511.4 405.1 515.0 C410.2 518.6 414.1 519.8 419.2 524.0 C424.3 528.2 431.3 535.2 435.8 540.0 C440.3 544.8 443.1 549.0 446.0 553.0 C448.9 557.0 451.8 562.2 453.0 564.0" stroke-width="1.0" stroke="#9a9a9a"/>
<path d="M346.2 479.6 C344.1 480.0 336.9 480.9 333.4 482.0 C329.9 483.1 327.0 484.8 325.4 486.0 C323.8 487.2 325.4 487.9 323.8 489.2 C322.2 490.5 318.2 492.1 315.8 494.0 C313.4 495.9 311.4 498.5 309.4 500.4 C307.4 502.3 304.9 503.3 303.8 505.2 C302.7 507.1 302.9 509.5 303.0 511.6 C303.1 513.7 304.7 514.3 304.6 518.0 C304.5 521.7 302.7 528.4 302.2 534.0 C301.7 539.6 301.5 548.7 301.4 551.6"/>
<path d="M306.2 516.4 C307.0 516.7 308.6 518.5 311.0 518.0 C313.4 517.5 319.0 514.0 320.6 513.2"/>
<path d="M301.4 551.6 C302.2 552.3 303.8 554.8 306.2 555.6 C308.6 556.4 313.4 556.8 315.8 556.4 C318.2 556.0 319.3 555.1 320.6 553.2 C321.9 551.3 323.0 547.9 323.8 545.2 C324.6 542.5 324.1 539.3 325.4 537.2 C326.7 535.1 329.8 532.9 331.8 532.4 C333.8 531.9 336.1 532.4 337.4 534.0 C338.7 535.6 339.9 538.5 339.8 542.0 C339.7 545.5 338.1 551.1 336.6 554.8 C335.1 558.5 331.9 562.8 331.0 564.4"/>
<path d="M319.0 522.8 C319.7 524.1 321.9 528.7 323.0 530.8 C324.1 532.9 325.0 534.8 325.4 535.6"/>
<path d="M333.4 487.6 C335.8 488.1 344.1 488.9 347.8 490.8 C351.5 492.7 353.4 496.4 355.8 498.8 C358.2 501.2 359.0 503.1 362.2 505.2 C365.4 507.3 371.3 508.9 375.0 511.6 C378.7 514.3 381.9 516.9 384.6 521.2 C387.3 525.5 389.4 531.9 391.0 537.2 C392.6 542.5 393.5 548.9 394.2 553.2 C394.9 557.5 394.9 561.2 395.0 562.8"/>
<g transform="rotate(13 596.6 294.7)"><ellipse cx="596.6" cy="294.7" rx="15" ry="6.6" fill="#3a3a3a" stroke="#999" stroke-width="1"/><ellipse cx="596.6" cy="294.7" rx="12.6" ry="4.6" fill="#2a2a2a" stroke="#cfcfcf" stroke-width="0.6"/><path d="M590 294.7 h13 M596.6 291 v7.4 M592 291.5 l9 6.4 M592 297.9 l9 -6.4" stroke="#ddd" stroke-width="1"/></g>
<path d="M592.2 321.0 C598.1 318.0 620.7 305.9 627.4 303.0 C634.1 300.1 631.0 302.8 632.5 303.7 C634.0 304.6 633.8 303.2 636.3 308.2 C638.8 313.2 646.1 328.7 647.8 333.8 C649.5 338.9 648.1 337.2 646.6 338.9 C645.1 340.6 640.2 343.1 638.9 344.0" stroke="#9a9a9a"/>
<path d="M594.0 322.2 C599.8 319.8 622.2 309.7 628.6 307.5 C635.0 305.3 630.1 304.9 632.5 308.8 C634.9 312.8 641.2 326.6 642.7 331.2 C644.2 335.8 642.0 335.2 641.4 336.3 C640.8 337.4 640.8 337.2 638.9 337.6 C637.0 338.0 631.6 340.4 629.9 338.9 C628.2 337.4 628.8 330.3 628.6 328.6"/>
<path d="M628.6 302.4 C630.5 303.6 636.8 306.1 640.2 309.4 C643.6 312.7 646.2 317.3 649.0 322.2 C651.8 327.1 655.0 334.8 656.8 338.9 C658.6 343.0 659.0 343.8 660.0 346.6 C661.0 349.5 662.5 354.4 663.0 356.0"/>
</g>
</g>

<!-- /ENGINE -->
<!-- BATTERY -->
<g id="battery">
<path d="M365.4 596 L420.4 614 L420.4 625 L365.4 625 Z" fill="#fff" stroke="#6a6a6a" stroke-width="0.9"/>
<path d="M420.4 614 L441.5 594 L441.5 625 L420.4 625 Z" fill="#fbfbfb" stroke="#6a6a6a" stroke-width="0.9"/>
<path d="M365.4 594.7 L383 581 L441.5 592 L441.5 597 L420.4 617.5 L365.4 599.5 Z" fill="#7b7b7b" stroke="#5e5e5e" stroke-width="0.7"/>
<path d="M365.4 594.7 L383 581 L441.5 592 L420.4 612.5 Z" fill="#8a8a8a" stroke="#666" stroke-width="0.6"/>
<g fill="none" stroke="#6a6a6a" stroke-width="0.8">
<ellipse cx="376.5" cy="593" rx="2.6" ry="1.8"/><ellipse cx="384" cy="595.5" rx="2.6" ry="1.8"/><ellipse cx="392" cy="598" rx="2.6" ry="1.8"/><ellipse cx="400" cy="600.5" rx="2.6" ry="1.8"/><ellipse cx="408" cy="603" rx="2.6" ry="1.8"/><ellipse cx="416" cy="605.5" rx="2.6" ry="1.8"/>
</g>
<g fill="#bdbdbd" stroke="#777" stroke-width="0.5">
<path d="M387 580 v-4 h4 v4 Z"/><ellipse cx="389" cy="580.5" rx="3.5" ry="2"/><ellipse cx="389" cy="576" rx="2" ry="1.2"/>
<path d="M429 592 v-4 h4 v4 Z"/><ellipse cx="431" cy="592.5" rx="3.5" ry="2"/><ellipse cx="431" cy="588" rx="2" ry="1.2"/>
</g>
<g stroke="#999" stroke-width="0.8"><path d="M370 611 L408 622 M370 618 L395 625"/></g>
</g>

<!-- WIRES -->
<g id="wires" fill="none" stroke-linecap="butt" stroke-linejoin="round">
<g stroke="#f9e0e7" stroke-width="4.8">
<path d="M270 144 V198 Q270 203.3 275 203.3 H440 Q445 203.3 445 208 V236"/>
<path d="M386 118 V236"/>
<path d="M420.5 134 V164.5 Q420.5 169.5 425.5 169.5 H563 Q568 169.5 568 164.5 V150"/>
<path d="M573 150 V181 Q573 186 568 186 H423 Q418 186 418 191 V236"/>
<path d="M401.5 234 V380"/>
<path d="M401.5 452 V591.5"/>
</g>
<g stroke="#d9a3b2" stroke-width="3">
<path d="M270 144 V198 Q270 203.3 275 203.3 H440 Q445 203.3 445 208 V236"/>
<path d="M386 118 V236"/>
<path d="M420.5 134 V164.5 Q420.5 169.5 425.5 169.5 H563 Q568 169.5 568 164.5 V150"/>
<path d="M573 150 V181 Q573 186 568 186 H423 Q418 186 418 191 V236"/>
<path d="M401.5 234 V380"/>
<path d="M401.5 452 V591.5"/>
</g>
<g stroke="#a46678" stroke-width="1.8">
<path d="M270 144 V198 Q270 203.3 275 203.3 H440 Q445 203.3 445 208 V236"/>
<path d="M386 118 V236"/>
<path d="M420.5 134 V164.5 Q420.5 169.5 425.5 169.5 H563 Q568 169.5 568 164.5 V150"/>
<path d="M573 150 V181 Q573 186 568 186 H423 Q418 186 418 191 V236"/>
<path d="M401.5 234 V380"/>
<path d="M401.5 452 V591.5"/>
</g>
</g>

<!-- GAUGE -->
<g id="gauge">
<circle cx="270" cy="87.6" r="56.3" fill="#767676"/>
<circle cx="270" cy="87.6" r="53.4" fill="none" stroke="#9a9a9a" stroke-width="3"/>
<circle cx="270" cy="87.6" r="49" fill="#232323"/>
<rect x="239.7" y="60.7" width="58.5" height="43.2" fill="#c4c4c4" stroke="#555" stroke-width="0.8"/>
<rect x="241" y="62" width="46" height="21.5" fill="#cfcfcf"/>
<rect x="287.3" y="61" width="1.5" height="23" fill="#2a2a2a"/>
<rect x="290.3" y="71.3" width="6" height="12.2" fill="#2a2a2a"/>
<rect x="240" y="83.3" width="58" height="1.6" fill="#2a2a2a"/>
<g fill="none" stroke="#1e1e1e" stroke-width="3.3" stroke-linejoin="bevel">
<path d="M255 66.4 H243.8 V73 H253.4 V79.6 H242"/>
<path d="M259.5 66.4 H270 V79.6 H258.2 M261 73 H270"/>
</g>
<g fill="none" stroke="#8c8c8c" stroke-width="0.9" stroke-linejoin="miter">
<path d="M254 66.4 H243.8 V73 H253.4 V79.6 H243"/>
<path d="M260.5 66.4 H270 V79.6 H259.2 M262 73 H270"/>
</g>
<g fill="#666"><rect x="274" y="75.5" width="8" height="1.6"/><rect x="274" y="78.6" width="8" height="1.6"/></g>
<g stroke="#aaa" stroke-width="0.9"><path d="M298.5 64.5h2.5M298.5 68.5h2.5M298.5 72.5h2.5M298.5 76.5h2.5M298.5 80.5h2.5"/></g>
<g stroke="#4a4a4a" stroke-width="2.2" stroke-dasharray="3 1 5 1 2 1.2">
<path d="M249 88.4 H293"/><path d="M247.5 94 H296" stroke-width="2.6"/><path d="M249 100 H293" stroke-dasharray="2 3 3 2 2 3"/>
</g>
<rect x="241.5" y="54.3" width="19.5" height="1.5" fill="#6e6e6e"/>
<rect x="290.5" y="56.4" width="3" height="1.2" fill="#777"/>
<rect x="249" y="110" width="8" height="2" fill="#8a8a8a"/>
<rect x="280.5" y="110" width="8.5" height="2" fill="#8a8a8a"/>
<ellipse cx="253.5" cy="119.3" rx="8.8" ry="5.8" fill="#767676" stroke="#5a5a5a" stroke-width="0.6"/>
<ellipse cx="284.4" cy="119.3" rx="8.8" ry="5.8" fill="#767676" stroke="#5a5a5a" stroke-width="0.6"/>
<circle cx="241.8" cy="118.8" r="1.2" fill="#eee"/>
<circle cx="295.6" cy="119.8" r="1.2" fill="#eee"/>
</g>

<!-- CONTROL BOX -->
<g id="cbox">
<!-- right side face -->
<path d="M468 68 L478 63 L478 140 L470 144 Z" fill="#7e7e7e" stroke="#666" stroke-width="0.7"/>
<!-- main body -->
<path d="M343.5 60 Q344 48 356 46.5 L383 43.3 L444 52 L479 58 L479 64 L470.5 70 L470.5 143.6 L396.5 128 L395 124.5 L352 115 Q345 113.5 344 107 Z" fill="#9b9b9b" stroke="#6e6e6e" stroke-width="0.8"/>
<!-- top surface band -->
<path d="M345 58 Q346 49 356 48 L383 45 L444 53 L444 61 L447 70 L383 63 L348 60 Z" fill="#a3a3a3"/>
<!-- groove -->
<path d="M346 59.5 L380 61.5 L380 68 L347 66 Z" fill="#7c7c7c"/>
<path d="M409 64 L446 69 L452 76 L409 71 Z" fill="#838383"/>
<g fill="#d6d6d6"><rect x="349" y="60.8" width="6" height="1.6"/><rect x="357" y="62.4" width="10" height="1.4"/><rect x="369" y="62" width="5" height="1.4"/><rect x="414" y="66.5" width="6" height="1.6"/></g>
<!-- top slab right -->
<path d="M444.6 56.2 L479.3 60.7 L479 64 L444.5 61.3 Z" fill="#a9a9a9" stroke="#777" stroke-width="0.6"/>
<path d="M444.5 61.3 L447 66 L455 74 L470.5 76 L470.5 70 L479 64" fill="none" stroke="#808080" stroke-width="0.7"/>
<!-- side knobs -->
<path d="M472 76 Q474 73 480 74 L487 76 L493 84 L491 90 L486 88 L482 92 L474 92 Q471 84 472 76 Z" fill="#7a7a7a" stroke="#555" stroke-width="0.6"/>
<ellipse cx="474.5" cy="101" rx="4" ry="6" fill="#6d6d6d" stroke="#4a4a4a" stroke-width="0.6"/>
<ellipse cx="474.5" cy="115" rx="4" ry="6" fill="#6d6d6d" stroke="#4a4a4a" stroke-width="0.6"/>
<ellipse cx="474.5" cy="129.5" rx="4" ry="6" fill="#6d6d6d" stroke="#4a4a4a" stroke-width="0.6"/>
<!-- screws / plate -->
<circle cx="441.5" cy="105.5" r="2.6" fill="#8a8a8a" stroke="#666" stroke-width="0.6"/>
<circle cx="431" cy="120.5" r="2.6" fill="#8a8a8a" stroke="#666" stroke-width="0.6"/>
<circle cx="349.5" cy="90" r="1.8" fill="#777"/>
<path d="M446 113 L463 116 L463 137 L446 133 Z" fill="#b0b0b0" stroke="#888" stroke-width="0.5"/>
<g stroke="#888" stroke-width="0.8"><path d="M449 119 L460 121 M449 124 L460 126 M449 129 L460 131"/></g>
<!-- bottom connector -->
<path d="M393 117 L411 119 L412 131 L396.5 128 L395 124.5 Z" fill="#959595" stroke="#777" stroke-width="0.6"/>
<!-- disk -->
<ellipse cx="396" cy="91.5" rx="25.5" ry="24.5" fill="#a1a1a1" stroke="#6e6e6e" stroke-width="0.9"/>
<!-- silver handle -->
<path d="M385 37 L406.5 36 L406.5 45 Q410 58 418 66 Q428 76 428 92 Q428 108 416 116 Q410 119 404 118.5 Q414 113 419 103 Q422 92 418 80 Q413 70 404 66 Q394 64 384 66 Q378 68 374 72 Q380 66 383 58 Q385 50 385 44 Z" fill="#cfcfcf" stroke="#8a8a8a" stroke-width="0.6"/>
<path d="M400 38 L406 37 L406 45 Q409 56 416 64 L410 66 Q403 56 400 46 Z" fill="#bdbdbd"/>
<!-- lever -->
<path d="M385 0 H406.5 V36 L385 37 Z" fill="#8c8c8c" stroke="#6c6c6c" stroke-width="0.8"/>
<path d="M399 0 H403 V36.2 L399 36.4 Z" fill="#7c7c7c"/>
<rect x="385" y="0" width="21.5" height="1.2" fill="#666"/>
</g>

<!-- RECEIVER -->
<g id="receiver">
<rect x="565" y="130" width="11.5" height="21.5" fill="#858599"/>
<g stroke="#6e6e80" stroke-width="0.8"><path d="M565 134h11.5M565 138h11.5M565 142h11.5M565 146h11.5"/></g>
<path d="M540.8 1.7 Q545 1.5 548 2.4 L603 17.5 Q614.7 20 614.7 28 L614.7 121 Q614.7 126 610 127 L600 130 L591.8 128 L579 134.4 L565 130.6 L536.8 121 L522 96.6 L522 37.5 L533 27 L533 8 Q534 3 540.8 1.7 Z" fill="#8379b6"/>
<g fill="none" stroke="#b3abe2" stroke-width="1.1">
<path d="M537 9 L603 21.5 Q608 23 609 28"/>
<path d="M538.5 21.3 L581 33.8 L592.6 24.2 L607 27.5 L607.8 118.4"/>
<path d="M581 33.8 L595.5 57.8 L595.7 113 L590.5 126"/>
<path d="M592.6 24.2 L606 47.2 L595.5 57.8"/>
<path d="M606.5 108.8 L590.5 126"/>
<circle cx="603" cy="31" r="1.8"/>
<circle cx="604" cy="122" r="1.6"/>
<path d="M534.5 9.5 Q534 12 536 13.5"/>
</g>
<g fill="none" stroke="#b8b0e6" stroke-width="0.9">
<path d="M559.5 40.5 L561.5 43 L559.5 45.5 L560 49"/>
<path d="M554 51 V56 H557 M558.5 57.5 V51.5 M558.5 52 H562 V55 H558.5"/>
</g>
</g>

<!-- TRANSMITTER -->
<g id="transmitter">
<path d="M684.5 0 L713.5 36 Q716.3 39 720 37 L776.5 0 Z" fill="#7a6fae"/>
<path d="M684.5 0 L713 33.5 Q716 36 719.5 34.2 L775.5 0 Z" fill="#8379b6"/>
<g fill="none" stroke="#b3abe2" stroke-width="0.8">
<path d="M689.5 0 L715.5 29.8 L768 0"/>
<path d="M717 33 L773 0"/>
<circle cx="726.2" cy="11" r="7.2"/>
</g>
<circle cx="725" cy="10.5" r="3.6" fill="#a9bfe8" stroke="#6d6aa8" stroke-width="0.6"/>
<circle cx="724.5" cy="10" r="1.6" fill="#dfe8f8"/>
<ellipse cx="711" cy="0.5" rx="3" ry="1.5" fill="#b7aee0"/>
</g>

<!-- BOLT -->
<path d="M689 21 L645 26.5 L657.5 33 L623.5 43.5 L674 37.5 L662 29 Z" fill="url(#bolt)"/>

<!-- HUB -->
<g id="hub">
<path d="M384 227 H468 Q472 227 473 231 L474.5 244 Q475 246 478 246 L485 246.5 V251.6 L472 251.6 L468 248.2 H382 L378 251.6 H365 V246.5 L373 246 Q376 246 376.5 243 L378 233 Q379 227 384 227 Z" fill="#a0a0a0" stroke="#6e6e6e" stroke-width="0.9"/>
<rect x="381" y="231" width="10" height="8.8" rx="2.2" fill="#9b6e74" stroke="#6e5a5e" stroke-width="0.8"/>
<rect x="395.8" y="231" width="11.4" height="8.8" rx="2.2" fill="#9a9a9a" stroke="#666" stroke-width="0.9"/>
<rect x="413" y="231" width="9.4" height="8.8" rx="2" fill="#fff" stroke="#666" stroke-width="0.9"/>
<rect x="426.5" y="231" width="9.6" height="8.8" rx="2" fill="#fff" stroke="#666" stroke-width="0.9"/>
<rect x="440.5" y="231" width="9.6" height="8.8" rx="2" fill="#fff" stroke="#666" stroke-width="0.9"/>
<rect x="455" y="231" width="12" height="8.8" rx="2.4" fill="#969696" stroke="#666" stroke-width="0.9"/>
</g>
<g fill="none" stroke-linecap="butt">
<g stroke="#f9e0e7" stroke-width="4.8"><path d="M386 224 V237"/><path d="M418 224 V237"/><path d="M445 224 V237"/><path d="M401.5 235 V258"/></g>
<g stroke="#d9a3b2" stroke-width="3"><path d="M386 224 V237"/><path d="M418 224 V237"/><path d="M445 224 V237"/><path d="M401.5 235 V258"/></g>
<g stroke="#a46678" stroke-width="1.8"><path d="M386 224 V237"/><path d="M418 224 V237"/><path d="M445 224 V237"/><path d="M401.5 235 V258"/></g>
</g>

<!-- ECM -->
<g id="ecm">
<path d="M369 383 Q366 387 367 391 L373 393 L373 382 Z" fill="#4a4a4a"/>
<path d="M369 415 Q366 420 368 426 L373 426.5 L373 414.5 Z" fill="#4a4a4a"/>
<path d="M380.8 440 L427.3 444 L427.3 463 L380.8 461 Z" fill="#7068a9" stroke="#5d5596" stroke-width="0.6"/>
<g fill="none" stroke="#9890cc" stroke-width="0.7"><path d="M383 447 L425 450 M390 452 v7 M397 452 v7 M414 453 v7 M420 453 v7"/></g>
<path d="M376 376.4 L443.3 382.8 L444.3 386 L444.3 439 L429 445.5 L372.8 440.5 L372.8 380 Z" fill="#8078b2"/>
<path d="M429 388.4 L443.3 383.5 L444.3 386 L444.3 439 L429 445.5 Z" fill="#7068a6"/>
<g fill="none" stroke="#a59ddb" stroke-width="0.9">
<path d="M373 382 L427.3 388.4 Q429 389.5 429 392 L429 445"/>
<path d="M429 388.4 L443 383.5"/>
<path d="M432 392 v8 M432 422 v8"/>
</g>
<rect x="432" y="394" width="12.5" height="15" rx="2" fill="#7870ae" stroke="#a59ddb" stroke-width="0.7"/>
<rect x="432" y="424.5" width="12.5" height="15.5" rx="2" fill="#7870ae" stroke="#a59ddb" stroke-width="0.7"/>
<circle cx="438" cy="402" r="3.6" fill="#3e3e46"/>
<circle cx="438" cy="433.3" r="3.6" fill="#3e3e46"/>
<g stroke="#fff" stroke-width="1"><path d="M436 402h4M438 400v4M436 433.3h4M438 431.3v4"/></g>
<text x="384" y="422" font-size="22.5" font-weight="bold" fill="#fff" textLength="29.7" lengthAdjust="spacingAndGlyphs">ECM</text>
</g>

<g fill="none" stroke-linecap="butt">
<g stroke="#f9e0e7" stroke-width="4.8"><path d="M401.5 372 V381.5"/><path d="M401.5 443 V468"/></g>
<g stroke="#d9a3b2" stroke-width="3"><path d="M401.5 372 V381.5"/><path d="M401.5 443 V468"/></g>
<g stroke="#a46678" stroke-width="1.8"><path d="M401.5 372 V381.5"/><path d="M401.5 443 V468"/></g>
</g>
<!-- LABELS -->
<g fill="#484848" stroke="#484848" stroke-width="0.25" font-size="14.5">
<text x="592" y="153.9" textLength="44.6" lengthAdjust="spacingAndGlyphs">Receiver</text>
<text x="699.3" y="59.9" textLength="58" lengthAdjust="spacingAndGlyphs">Transmitter</text>
<text x="342" y="242" textLength="19.5" lengthAdjust="spacingAndGlyphs">Hub</text>
</g>
</svg>
</body></html>
